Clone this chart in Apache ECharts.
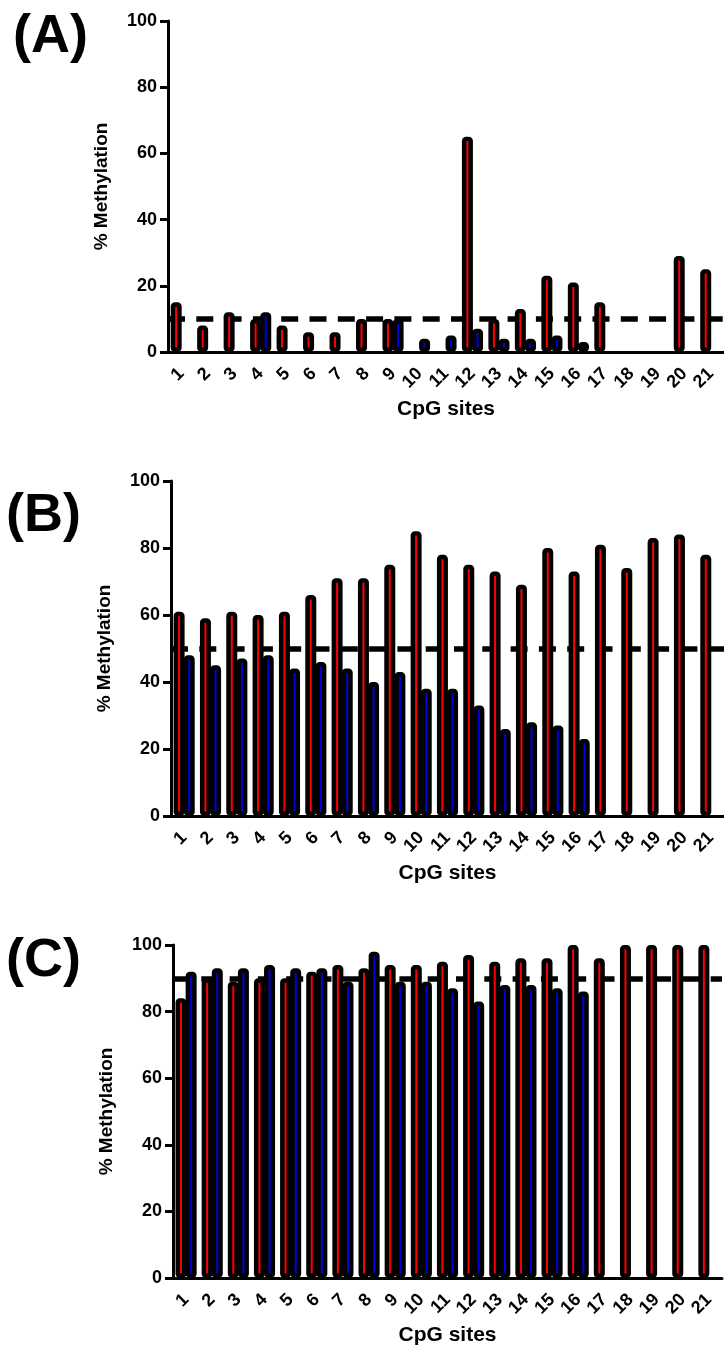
<!DOCTYPE html>
<html>
<head>
<meta charset="utf-8">
<script src="https://cdn.jsdelivr.net/npm/echarts@6/dist/echarts.min.js"></script>
<style>
  html, body { margin: 0; padding: 0; background: #fff; }
  #chart { width: 724px; height: 1347px; }
</style>
</head>
<body>
<div id="chart"></div>
<script>
// CpG site labels along the x axis
const sites = ['1','2','3','4','5','6','7','8','9','10','11','12','13','14','15','16','17','18','19','20','21'];

// % methylation per CpG site (red = first group, blue = second group); null = no bar
const redA  = [15, 8, 12, 10, 8, 6, 6, 10, 10, null, null, 65, 10, 13, 23, 21, 15, null, null, 29, 25];
const blueA = [null, null, null, 12, null, null, null, null, 10, 4, 5, 7, 4, 4, 5, 3, null, null, null, null, null];

const redB  = [61, 59, 61, 60, 61, 66, 71, 71, 75, 85, 78, 75, 73, 69, 80, 73, 81, 74, 83, 84, 78];
const blueB = [48, 45, 47, 48, 44, 46, 44, 40, 43, 38, 38, 33, 26, 28, 27, 23, null, null, null, null, null];

const redC  = [84, 90, 89, 90, 90, 92, 94, 93, 94, 94, 95, 97, 95, 96, 96, 100, 96, 100, 100, 100, 100];
const blueC = [92, 93, 93, 94, 93, 93, 89, 98, 89, 89, 87, 83, 88, 88, 87, 86, null, null, null, null, null];

// dashed reference level per panel
const thresholds = [10, 50, 90];
const panelLabels = ['(A)', '(B)', '(C)'];
const yTitle = '% Methylation';
const xTitle = 'CpG sites';

const panels = [
  { red: redA, blue: blueA },
  { red: redB, blue: blueB },
  { red: redC, blue: blueC }
];

// panel frames (pixels)
const frames = [
  { left: 168, top: 21,  width: 556, height: 331, labelX: 13, labelY: 10 },
  { left: 171, top: 481, width: 553, height: 335, labelX: 6,  labelY: 489 },
  { left: 173, top: 945, width: 549, height: 333, labelX: 6,  labelY: 934 }
];

const FONT = '"Liberation Sans", Arial, Helvetica, sans-serif';

const grid = [], xAxis = [], yAxis = [], series = [], graphic = [];

frames.forEach((f, i) => {
  grid.push({ left: f.left, top: f.top, width: f.width, height: f.height, containLabel: false });

  xAxis.push({
    type: 'category',
    gridIndex: i,
    data: sites,
    boundaryGap: true,
    name: xTitle,
    nameLocation: 'middle',
    nameGap: 47,
    nameTextStyle: { fontFamily: FONT, fontWeight: 'bold', fontSize: 21, color: '#000' },
    axisLine: { lineStyle: { color: '#000', width: 3 } },
    axisTick: { alignWithLabel: true, length: 7, lineStyle: { color: '#000', width: 3 } },
    axisLabel: {
      interval: 0, rotate: 45, margin: 19,
      fontFamily: FONT, fontWeight: 'bold', fontSize: 18, color: '#000'
    },
    splitLine: { show: false }
  });

  yAxis.push({
    type: 'value',
    gridIndex: i,
    min: 0, max: 100, interval: 20,
    name: yTitle,
    nameLocation: 'middle',
    nameRotate: 90,
    nameGap: 57,
    nameTextStyle: { fontFamily: FONT, fontWeight: 'bold', fontSize: 19, color: '#000' },
    axisLine: { show: true, lineStyle: { color: '#000', width: 3 } },
    axisTick: { show: true, length: 8, lineStyle: { color: '#000', width: 3 } },
    axisLabel: { margin: 11, fontFamily: FONT, fontWeight: 'bold', fontSize: 18, color: '#000' },
    splitLine: { show: false }
  });

  const barStyle = (fill) => ({
    color: fill,
    borderColor: '#000',
    borderWidth: 4.5,
    borderRadius: 2
  });

  series.push({
    type: 'bar',
    xAxisIndex: i, yAxisIndex: i,
    data: panels[i].red,
    barWidth: 11,
    barGap: '-8%',
    z: 10,
    itemStyle: barStyle('#ff0000'),
    markLine: {
      silent: true,
      symbol: 'none',
      label: { show: false },
      lineStyle: { color: '#000', width: 5.5, type: [17, 11.3] },
      data: [{ yAxis: thresholds[i] }]
    }
  });
  series.push({
    type: 'bar',
    xAxisIndex: i, yAxisIndex: i,
    data: panels[i].blue,
    barWidth: 11,
    barGap: '-8%',
    z: 10,
    itemStyle: barStyle('#0000dd')
  });

  graphic.push({
    type: 'text',
    left: f.labelX,
    top: f.labelY,
    style: { text: panelLabels[i], fontFamily: FONT, fontWeight: 'bold', fontSize: 54, fill: '#000' }
  });
});

const chart = echarts.init(document.getElementById('chart'), null, { renderer: 'canvas' });
chart.setOption({
  backgroundColor: '#fff',
  animation: false,
  grid, xAxis, yAxis, series, graphic
});
</script>
</body>
</html>
